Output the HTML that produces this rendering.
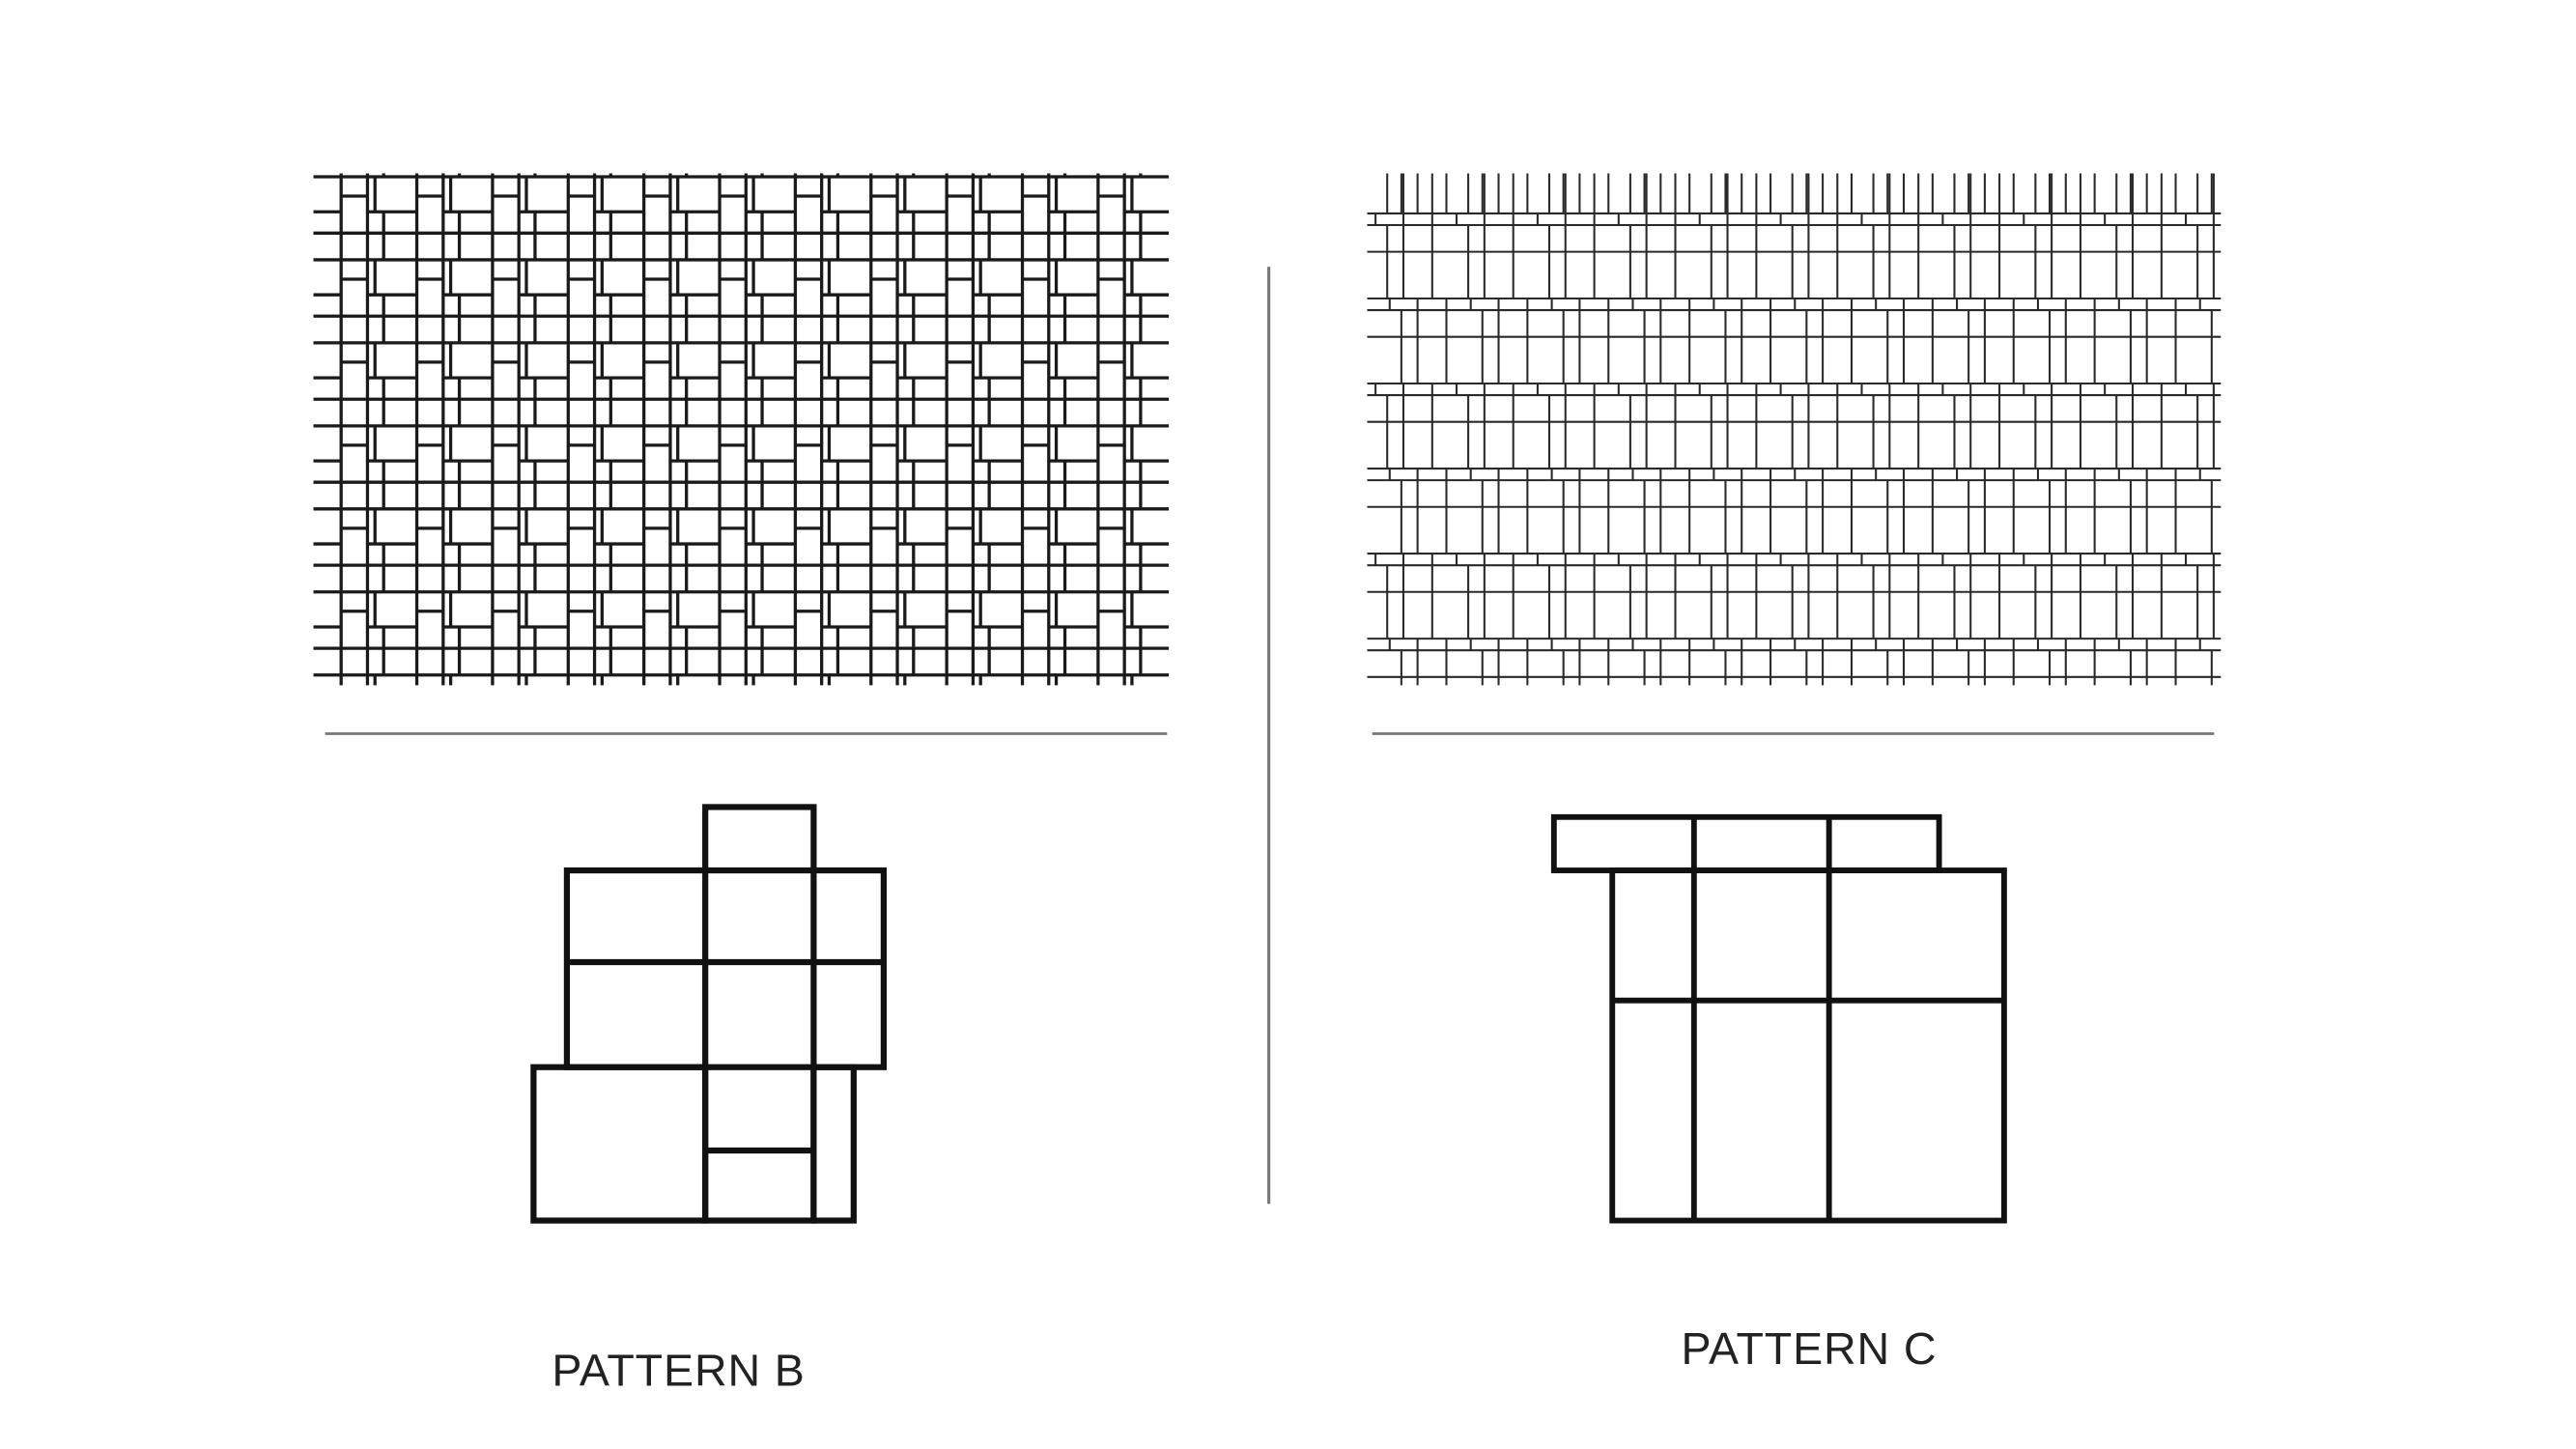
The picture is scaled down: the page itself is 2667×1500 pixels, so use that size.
<!DOCTYPE html>
<html><head><meta charset="utf-8"><style>
html,body{margin:0;padding:0;background:#fff;width:2667px;height:1500px;overflow:hidden}
svg{display:block}
</style></head><body>
<svg id="s" width="2667" height="1500" viewBox="0 0 1545 869" preserveAspectRatio="none" xmlns="http://www.w3.org/2000/svg">
<defs>
<clipPath id="cb"><rect x="188" y="104" width="513" height="307"/></clipPath>
<clipPath id="cc"><rect x="820" y="104" width="512" height="307"/></clipPath>
</defs>
<rect width="1545" height="869" fill="#fff"/>
<g id="pb" clip-path="url(#cb)" stroke="#1a1a1a" stroke-width="1.9" fill="none"></g>
<g id="pc" clip-path="url(#cc)" stroke="#2a2a2a" stroke-width="1.2" fill="none"></g>
<line x1="195" y1="440" x2="700" y2="440" stroke="#777" stroke-width="1.6"/>
<line x1="823" y1="440" x2="1328" y2="440" stroke="#777" stroke-width="1.6"/>
<line x1="761" y1="160" x2="761" y2="722" stroke="#777" stroke-width="1.8"/>
<g stroke="#111" stroke-width="3.6" fill="none" stroke-linejoin="miter">
<rect x="340" y="522" width="190" height="118"/>
<rect x="423" y="484" width="65" height="248"/>
<line x1="340" y1="577" x2="530" y2="577"/>
<rect x="320" y="640" width="103" height="92"/>
<rect x="488" y="640" width="24" height="92"/>
<line x1="423" y1="690" x2="488" y2="690"/>
</g>
<g stroke="#111" stroke-width="3.4" fill="none">
<rect x="932" y="490" width="231" height="32"/>
<rect x="967" y="522" width="235" height="210"/>
<line x1="1016" y1="490" x2="1016" y2="732"/>
<line x1="1097" y1="490" x2="1097" y2="732"/>
<line x1="967" y1="600" x2="1202" y2="600"/>
</g>
<text x="407" y="831" text-anchor="middle" font-family="Liberation Sans, sans-serif" font-size="27" fill="#222" letter-spacing="0.5">PATTERN B</text>
<text x="1085" y="818" text-anchor="middle" font-family="Liberation Sans, sans-serif" font-size="27" fill="#222" letter-spacing="0.5">PATTERN C</text>
</svg>
<script>
const NS="http://www.w3.org/2000/svg";
function ln(g,x1,y1,x2,y2){const l=document.createElementNS(NS,'line');l.setAttribute('x1',x1);l.setAttribute('y1',y1);l.setAttribute('x2',x2);l.setAttribute('y2',y2);


g.appendChild(l);}
// Pattern B
const gb=document.getElementById('pb');
const PX=45.4,PY=49.8,bx=204.6-PX,by=106-PY;
for(let j=0;j<9;j++){const y=by+j*PY;
 ln(gb,180,y,710,y);ln(gb,180,y+33.8,710,y+33.8);
 for(let i=0;i<14;i++){const x=bx+i*PX;
  ln(gb,x,y+11.6,x+15.8,y+11.6);
  ln(gb,x+15.8,y+21,x+PX,y+21);
  ln(gb,x+20.3,y,x+20.3,y+21);
  ln(gb,x+25.5,y+21,x+25.5,y+PY);
 }}
for(let i=0;i<14;i++){const x=bx+i*PX;ln(gb,x,100,x,415);ln(gb,x+15.8,100,x+15.8,415);}
// Pattern C
const gc=document.getElementById('pc');
const CX=48.6,CY=51,cx0=832-CX*2,cy0=128;
for(let i=0;i<16;i++){const x=cx0+i*CX;ln(gc,x,104,x,128);ln(gc,x+9.7,104,x+9.7,128);ln(gc,x+27,104,x+27,128);}
for(let j=-1;j<7;j++){const y=cy0+j*CY;const off=(j%2===0)?0:8.5;
 ln(gc,815,y,1340,y);ln(gc,815,y+7,1340,y+7);ln(gc,815,y+23,1340,y+23);
 for(let i=0;i<16;i++){const x=cx0+i*CX+off;
  ln(gc,x,y+7,x,y+CY);ln(gc,x+9.7,y,x+9.7,y+CY);ln(gc,x+27,y,x+27,y+CY);
  ln(gc,x-7,y,x-7,y+7);
 }}
</script>
</body></html>
